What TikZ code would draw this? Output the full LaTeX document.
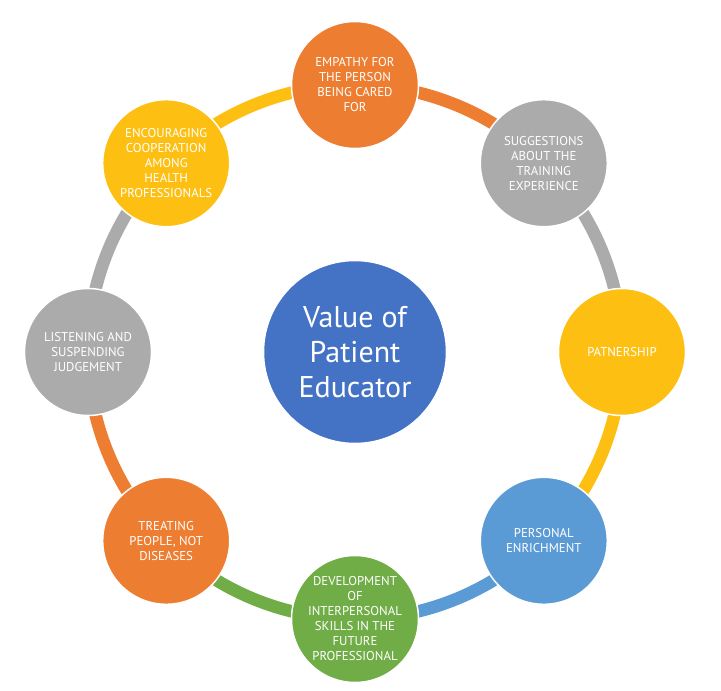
\documentclass[tikz,border=0pt]{standalone}
\usepackage{fontspec}
\setmainfont{PT Sans}
\definecolor{cOrange}{HTML}{ED7D31}
\definecolor{cGray}{HTML}{ABABAB}
\definecolor{cYellow}{HTML}{FDBF12}
\definecolor{cLBlue}{HTML}{5B9BD5}
\definecolor{cGreen}{HTML}{70AD47}
\definecolor{cBlue}{HTML}{4472C4}
\begin{document}
\begin{tikzpicture}[x=1pt,y=1pt,
  ring/.style={line width=12.5pt, bend left=22.5, looseness=0.885},
  item/.style={circle, draw=white, line width=1.5pt, minimum size=127pt, inner sep=0pt,
    text=white, align=center, font=\fontsize{12.8}{15}\selectfont},
  hub/.style={circle, draw=white, line width=1.5pt, minimum size=183pt, inner sep=0pt,
    fill=cBlue, text=white, align=center, font=\fontsize{30}{35}\selectfont}]
\useasboundingbox (-355,-339) rectangle (366,352);
\coordinate (p1) at (90:267);
\coordinate (p2) at (45:267);
\coordinate (p3) at (0:267);
\coordinate (p4) at (-45:267);
\coordinate (p5) at (-90:267);
\coordinate (p6) at (-135:267);
\coordinate (p7) at (180:267);
\coordinate (p8) at (135:267);
\draw[ring, cOrange] (p1) to (p2);
\draw[ring, cGray] (p2) to (p3);
\draw[ring, cYellow] (p3) to (p4);
\draw[ring, cLBlue] (p4) to (p5);
\draw[ring, cGreen] (p5) to (p6);
\draw[ring, cOrange] (p6) to (p7);
\draw[ring, cGray] (p7) to (p8);
\draw[ring, cYellow] (p8) to (p1);
\node[hub] (c) at (0,0) {Value of\\Patient\\Educator};
\node[item, fill=cOrange] (n1) at (p1) {EMPATHY FOR\\THE PERSON\\BEING CARED\\FOR};
\node[item, fill=cGray] (n2) at (p2) {SUGGESTIONS\\ABOUT THE\\TRAINING\\EXPERIENCE};
\node[item, fill=cYellow] (n3) at (p3) {PATNERSHIP};
\node[item, fill=cLBlue] (n4) at (p4) {PERSONAL\\ENRICHMENT};
\node[item, fill=cGreen] (n5) at (p5) {DEVELOPMENT\\OF\\INTERPERSONAL\\SKILLS IN THE\\FUTURE\\PROFESSIONAL};
\node[item, fill=cOrange] (n6) at (p6) {TREATING\\PEOPLE, NOT\\DISEASES};
\node[item, fill=cGray] (n7) at (p7) {LISTENING AND\\SUSPENDING\\JUDGEMENT};
\node[item, fill=cYellow] (n8) at (p8) {ENCOURAGING\\COOPERATION\\AMONG\\HEALTH\\PROFESSIONALS};
\end{tikzpicture}
\end{document}
